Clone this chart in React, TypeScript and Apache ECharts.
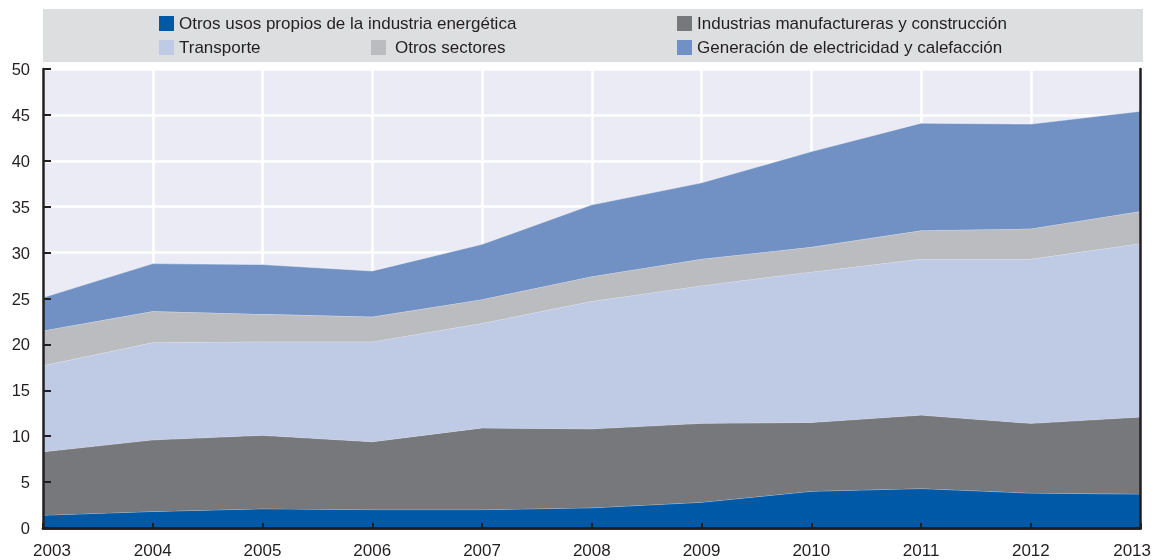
import React, { useEffect, useRef } from "react";
import * as echarts from "echarts";

const years = ["2003", "2004", "2005", "2006", "2007", "2008", "2009", "2010", "2011", "2012", "2013"];
const otrosUsos = [1.4, 1.8, 2.1, 2.0, 2.0, 2.2, 2.8, 4.0, 4.3, 3.8, 3.7];
const industrias = [6.9, 7.8, 8.0, 7.4, 8.9, 8.6, 8.6, 7.5, 8.0, 7.6, 8.4];
const transporte = [9.4, 10.6, 10.2, 10.9, 11.4, 13.9, 15.0, 16.4, 17.0, 17.9, 18.9];
const otrosSectores = [3.8, 3.4, 3.0, 2.7, 2.6, 2.7, 2.9, 2.7, 3.1, 3.3, 3.5];
const generacion = [3.6, 5.2, 5.4, 5.0, 6.0, 7.8, 8.3, 10.4, 11.7, 11.4, 10.9];

const seriesNames = [
  "Otros usos propios de la industria energética",
  "Industrias manufactureras y construcción",
  "Transporte",
  "Otros sectores",
  "Generación de electricidad y calefacción",
];
const seriesData = [otrosUsos, industrias, transporte, otrosSectores, generacion];
const colors = ["#0059A6", "#77787C", "#BFCAE5", "#BBBCC0", "#7191C5"];

const FONT = "'Liberation Sans', Arial, sans-serif";
const INK = "#231F20";

export default function App() {
  const ref = useRef<HTMLDivElement>(null);
  useEffect(() => {
    if (!ref.current) return;
    const chart = echarts.init(ref.current, null, { renderer: "svg" });
    const yBase = { type: "value", min: 0, max: 50, interval: 5 };
    const legendPos = [
      { left: 159, top: 15 },
      { left: 677, top: 15 },
      { left: 159, top: 39 },
      { left: 371, top: 39 },
      { left: 677, top: 39 },
    ];
    const order = [0, 1, 2, 3, 4];
    const option: any = {
      animation: false,
      textStyle: { fontFamily: FONT },
      graphic: [
        {
          type: "rect",
          left: 43,
          top: 9,
          shape: { width: 1100, height: 53 },
          style: { fill: "#DDDEDF" },
          z: 0,
        },
      ],
      legend: order.map((i) => ({
        data: [seriesNames[i]],
        left: legendPos[i].left,
        top: legendPos[i].top,
        padding: 0,
        itemWidth: 15,
        itemHeight: 15,
        icon: "rect",
        selectedMode: false,
        textStyle: {
          fontFamily: FONT,
          fontSize: 17,
          color: INK,
          padding: i === 3 ? [0, 0, 0, 4] : 0,
        },
      })),
      grid: {
        left: 43,
        right: 11,
        top: 69,
        bottom: 32,
        show: true,
        backgroundColor: "#EBEBF6",
        borderWidth: 0,
      },
      xAxis: [
        {
          type: "category",
          data: years,
          boundaryGap: false,
          axisLine: { show: false },
          axisTick: { show: false },
          axisLabel: { show: false },
          splitLine: { show: true, lineStyle: { color: "#FFFFFF", width: 2.5 } },
        },
        {
          type: "category",
          data: years,
          boundaryGap: false,
          position: "bottom",
          z: 10,
          axisLine: { show: true, lineStyle: { color: INK, width: 2.5 } },
          axisTick: { show: true, inside: true, length: 5, lineStyle: { color: INK, width: 2 } },
          axisLabel: {
            margin: 14,
            fontFamily: FONT,
            fontSize: 17,
            color: INK,
            formatter: (v: string, idx: number) =>
              idx === 0 ? "{a|" + v + "}" : idx === years.length - 1 ? "{b|" + v + "}" : v,
            rich: {
              a: { fontFamily: FONT, fontSize: 17, color: INK, padding: [0, 0, 0, 18] },
              b: { fontFamily: FONT, fontSize: 17, color: INK, padding: [0, 17, 0, 0] },
            },
          },
          splitLine: { show: false },
        },
        {
          type: "category",
          data: years,
          boundaryGap: false,
          position: "top",
          z: 10,
          axisLine: { show: true, lineStyle: { color: INK, width: 2.5 } },
          axisTick: { show: false },
          axisLabel: { show: false },
          splitLine: { show: false },
        },
      ],
      yAxis: [
        {
          ...yBase,
          axisLine: { show: false },
          axisTick: { show: false },
          axisLabel: { show: false },
          splitLine: { show: true, lineStyle: { color: "#FFFFFF", width: 2.5 } },
        },
        {
          ...yBase,
          position: "left",
          z: 10,
          axisLine: { show: true, lineStyle: { color: INK, width: 2.5 } },
          axisTick: { show: true, inside: true, length: 8, lineStyle: { color: INK, width: 2 } },
          axisLabel: { margin: 13, fontFamily: FONT, fontSize: 16.5, color: INK },
          splitLine: { show: false },
        },
        {
          ...yBase,
          position: "right",
          z: 10,
          axisLine: { show: true, lineStyle: { color: INK, width: 2.5 } },
          axisTick: { show: false },
          axisLabel: { show: false },
          splitLine: { show: false },
        },
      ],
      series: seriesNames.map((name, i) => ({
        name,
        type: "line",
        stack: "total",
        xAxisIndex: 0,
        yAxisIndex: 0,
        data: seriesData[i],
        symbol: "none",
        color: colors[i],
        lineStyle: { width: 1, color: "rgba(255,255,255,0.45)" },
        areaStyle: { color: colors[i], opacity: 1 },
        itemStyle: { color: colors[i] },
        z: 2 + i * 0.01,
      })),
    };
    chart.setOption(option);
    return () => chart.dispose();
  }, []);
  return (
    <div
      ref={ref}
      style={{ position: "fixed", left: 0, top: 0, width: 1154, height: 560 }}
    />
  );
}
